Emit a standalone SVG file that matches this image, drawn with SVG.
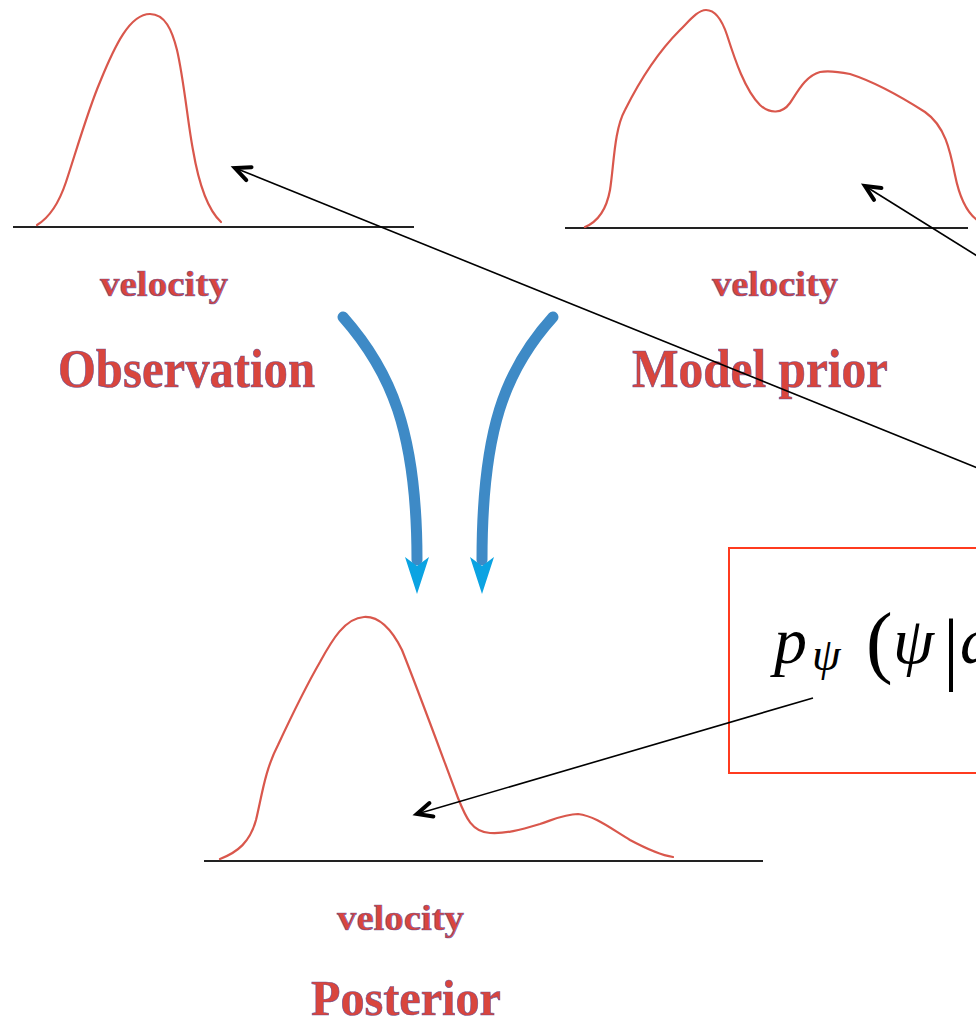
<svg xmlns="http://www.w3.org/2000/svg" width="976" height="1026" viewBox="0 0 976 1026">
  <style>
    .curve { fill: none; stroke: #d9574c; stroke-width: 2.2; stroke-linejoin: round; stroke-linecap: round; }
    .axis { stroke: #222; stroke-width: 2; }
    .lbl { font-family: "Liberation Serif", serif; font-weight: bold; fill: #d9453d; stroke: #5d4a94; stroke-width: 0.7; stroke-opacity: 0.8; }
    .small { font-size: 36px; }
    .big { font-size: 54px; }
    .conn { fill: none; stroke: #000; stroke-width: 1.6; }
    .flow { fill: none; stroke: #3e8ac6; stroke-width: 11; stroke-linecap: round; }
    .head { fill: #0ba3e2; }
    .math { font-family: "Liberation Serif", serif; fill: #000; }
  </style>
  <defs>
    <marker id="open" viewBox="-20 -12 24 24" refX="0" refY="0" markerWidth="24" markerHeight="24" markerUnits="userSpaceOnUse" orient="auto" overflow="visible">
      <path d="M-15,-7 L0,0 L-15,7" fill="none" stroke="#000" stroke-width="4" stroke-linecap="round" stroke-linejoin="miter"/>
    </marker>
  </defs>
  <rect width="976" height="1026" fill="#fff"/>

  <g id="observation">
    <line class="axis" x1="13" y1="227" x2="414" y2="227"/>
    <path class="curve" d="M37,225 C52,216 60,200 66,182 C75,155 88,110 100,82 C115,45 130,14 150,14 C165,14 172,30 177,50 C184,80 188,125 193,150 C199,185 208,210 221,222"/>
    <text class="lbl small" x="100" y="296" textLength="128" lengthAdjust="spacingAndGlyphs">velocity</text>
    <text class="lbl big" x="58" y="387" textLength="257" lengthAdjust="spacingAndGlyphs">Observation</text>
  </g>

  <g id="model-prior">
    <line class="axis" x1="565" y1="228" x2="968" y2="228"/>
    <path class="curve" d="M585,227 C597,222 606,212 610,190 C614,165 614,130 625,110 C640,80 660,50 680,30 C690,20 698,10 706,10 C716,10 722,20 727,35 C735,60 745,90 760,105 C770,114 782,114 790,103 C797,93 805,76 820,72 C830,70 840,72 850,74 C875,82 900,96 925,112 C945,126 950,150 955,175 C960,200 968,215 980,222"/>
    <text class="lbl small" x="712" y="296" textLength="126" lengthAdjust="spacingAndGlyphs">velocity</text>
    <text class="lbl big" x="632" y="387" textLength="256" lengthAdjust="spacingAndGlyphs">Model prior</text>
  </g>

  <g id="posterior">
    <line class="axis" x1="204" y1="861" x2="763" y2="861"/>
    <path class="curve" d="M220,859 C238,852 250,842 256,820 C262,795 265,770 278,745 C292,715 305,688 320,662 C332,640 345,618 364,617 C380,616 392,630 402,650 C418,690 440,750 458,798 C466,818 472,832 490,833 C505,834 520,830 540,824 C555,819 565,814 578,814 C595,816 610,828 630,840 C645,848 660,855 673,857"/>
    <text class="lbl small" x="337" y="930" textLength="127" lengthAdjust="spacingAndGlyphs">velocity</text>
    <text class="lbl" font-size="50" x="311" y="1015" textLength="190" lengthAdjust="spacingAndGlyphs">Posterior</text>
  </g>

  <g id="flow-arrows">
    <path class="flow" d="M343,317 C390,370 417,430 417,560"/>
    <polygon class="head" points="405,557 417,566 429,557 417,594"/>
    <path class="flow" d="M553,317 C505,370 482,430 482,560"/>
    <polygon class="head" points="470,557 482,566 494,557 482,594"/>
  </g>

  <g id="formula-box">
    <rect x="729" y="548" width="300" height="225" fill="none" stroke="#ff3b1f" stroke-width="2"/>
    <text class="math" font-size="66"><tspan x="774" y="663" font-style="italic">p</tspan><tspan x="812" y="670" font-size="46" font-style="italic">ψ</tspan><tspan x="866" y="668" font-size="80">(</tspan><tspan x="893" y="663" font-style="italic">ψ</tspan><tspan x="943" y="675" font-size="80">|</tspan><tspan x="960" y="663" font-style="italic">d</tspan></text>
  </g>

  <g id="connectors">
    <path class="conn" d="M990,473 L235,168" marker-end="url(#open)"/>
    <path class="conn" d="M990,264 L865,186" marker-end="url(#open)"/>
    <path class="conn" d="M813,698 L417,814" marker-end="url(#open)"/>
  </g>
</svg>
